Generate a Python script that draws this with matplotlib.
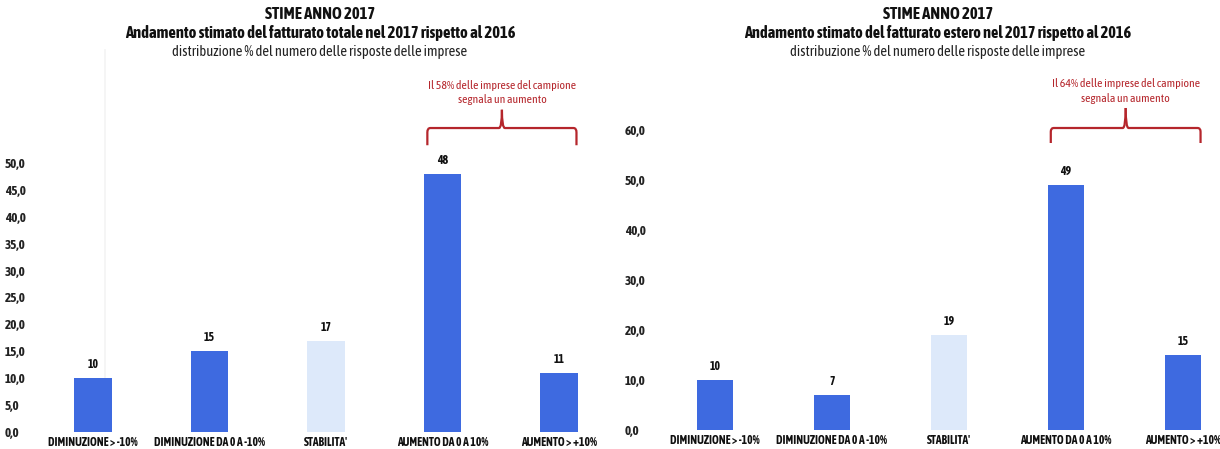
import matplotlib
matplotlib.use("Agg")
import matplotlib.pyplot as plt
from matplotlib import font_manager
from matplotlib.path import Path
from matplotlib.patches import PathPatch

# ---- data -------------------------------------------------------------
categories = ["DIMINUZIONE > -10%", "DIMINUZIONE DA 0 A -10%", "STABILITA'",
              "AUMENTO DA 0 A 10%", "AUMENTO > +10%"]
totale_values = [10, 15, 17, 48, 11]
estero_values = [10, 7, 19, 49, 15]

totale_ticks = [0, 5, 10, 15, 20, 25, 30, 35, 40, 45, 50]
estero_ticks = [0, 10, 20, 30, 40, 50, 60]

title_main = "STIME ANNO 2017"
title_totale = "Andamento stimato del fatturato totale nel 2017 rispetto al 2016"
title_estero = "Andamento stimato del fatturato estero nel 2017 rispetto al 2016"
subtitle = "distribuzione % del numero delle risposte delle imprese"
note_totale = "Il 58% delle imprese del campione\nsegnala un aumento"
note_estero = "Il 64% delle imprese del campione\nsegnala un aumento"

# ---- fonts: prefer a narrow family that also ships a bold face --------
entries = font_manager.fontManager.ttflist
bold_fams = {f.name for f in entries
             if (isinstance(f.weight, int) and f.weight >= 600)
             or str(f.weight) in ("bold", "semibold", "demibold", "heavy", "black")}
narrow = sorted(n for n in bold_fams if "Narrow" in n or "Condensed" in n)
if "Liberation Sans Narrow" in bold_fams:
    FONT = "Liberation Sans Narrow"
elif narrow:
    FONT = narrow[0]
elif "Lato" in bold_fams:
    FONT = "Lato"
else:
    FONT = "DejaVu Sans"
plt.rcParams["font.family"] = [FONT, "DejaVu Sans"]

BLUE = "#3e6ae0"
LIGHT = "#dde9fa"
RED = "#b5262c"

W, H = 1220, 449
fig = plt.figure(figsize=(W / 100, H / 100), dpi=100)
fig.patch.set_facecolor("white")
renderer = fig.canvas.get_renderer()


def fit_width(texts, target_px, max_size=None):
    """Scale font size so the widest text spans target_px (capped)."""
    widths = [t.get_window_extent(renderer).width for t in texts]
    k = target_px / max(widths)
    for t in texts:
        s = t.get_fontsize() * k
        if max_size is not None:
            s = min(s, max_size)
        t.set_fontsize(s)


def px_axes(x0, x1, y_top, y_bottom):
    return fig.add_axes([x0 / W, 1 - y_bottom / H, (x1 - x0) / W, (y_bottom - y_top) / H])


def brace(ax, x0, x1, y_tip, y_bar, y_stem):
    """Curly bracket spanning x0..x1 with a stem pointing up."""
    xm = (x0 + x1) / 2
    r = (y_bar - y_tip) * 0.25
    dx = (x1 - x0) * 0.02
    verts = [(x0, y_tip), (x0, y_bar - r), (x0, y_bar), (x0 + dx, y_bar),
             (xm - dx, y_bar), (xm, y_bar), (xm, y_stem)]
    codes = [Path.MOVETO, Path.LINETO, Path.CURVE3, Path.CURVE3,
             Path.LINETO, Path.CURVE3, Path.CURVE3]
    ax.add_patch(PathPatch(Path(verts, codes), fill=False, ec=RED, lw=1.6,
                           clip_on=False))
    verts2 = [(xm, y_stem), (xm, y_bar), (xm + dx, y_bar),
              (x1 - dx, y_bar), (x1, y_bar), (x1, y_bar - r), (x1, y_tip)]
    codes2 = [Path.MOVETO, Path.CURVE3, Path.CURVE3,
              Path.LINETO, Path.CURVE3, Path.CURVE3, Path.LINETO]
    ax.add_patch(PathPatch(Path(verts2, codes2), fill=False, ec=RED, lw=1.6,
                           clip_on=False))


def panel(ax, values, ticks, ylim, xlim, width, note, brace_y, note_y, note_w,
          ylabel_x):
    xs = range(len(values))
    colors = [LIGHT if c == "STABILITA'" else BLUE for c in categories]
    bars = ax.bar(xs, values, width=width, color=colors, edgecolor="none")
    for b, v in zip(bars, values):
        ax.annotate(f"{v}", (b.get_x() + b.get_width() / 2, v),
                    xytext=(0, 5), textcoords="offset points",
                    ha="center", va="bottom", fontsize=8.5, fontweight="bold",
                    color="#111111")
    ax.set_xlim(*xlim)
    ax.set_ylim(*ylim)
    ax.set_yticks(ticks)
    ylabels = ax.set_yticklabels([f"{t:.1f}".replace(".", ",") for t in ticks],
                                 fontsize=8, fontweight="bold", color="#222222",
                                 ha="left")
    ax.set_xticks(list(xs))
    xlabels = ax.set_xticklabels(categories, fontsize=8, fontweight="bold",
                                 color="#111111")
    ax.tick_params(length=0, pad=3)
    ax.tick_params(axis="y", pad=0)
    for lab in ax.get_yticklabels():
        lab.set_x(ylabel_x)
    for s in ax.spines.values():
        s.set_visible(False)
    ax.patch.set_alpha(0)

    x0, x1 = 3 - 0.13, 4 + 0.15
    brace(ax, x0, x1, *brace_y)
    t1 = ax.text((x0 + x1) / 2, note_y, note, ha="center", va="center",
                 fontsize=8, color=RED, linespacing=1.35)
    fit_width([t1], note_w, max_size=8.5)
    fit_width(xlabels, 110, max_size=9.5)
    fit_width(ylabels, 24, max_size=9.5)


# faint edge line in the left page area
fig.add_artist(plt.Line2D([105 / W, 105 / W], [1 - 425 / H, 1 - 50 / H],
                          color="#f3f3f3", lw=1.2, zorder=-1))

# left panel: fatturato totale
ax1 = px_axes(40, 600, 60, 432)
panel(ax1, totale_values, totale_ticks, (0, (432 - 60) / 5.38),
      (-(93 - 40) / 116.5, (600 - 93) / 116.5), 0.32, note_totale,
      (53.3, 56.5, 59.9), 63.1, 155, -35 / 560)

# right panel: fatturato estero
ax2 = px_axes(660, 1215, 60, 430)
panel(ax2, estero_values, estero_ticks, (0, (430 - 60) / 5.0),
      (-(715 - 660) / 117, (1215 - 715) / 117), 0.31, note_estero,
      (57.4, 60.4, 64.4), 67.8, 150, -35 / 555)

# titles
for cx, t2, w2 in ((320, title_totale, 394), (938, title_estero, 388)):
    a = fig.text(cx / W, 1 - 14 / H, title_main, ha="center", va="center",
                 fontsize=11, fontweight="bold", color="#111111")
    b = fig.text(cx / W, 1 - 33 / H, t2, ha="center", va="center",
                 fontsize=11, fontweight="bold", color="#111111")
    c = fig.text(cx / W, 1 - 52 / H, subtitle, ha="center", va="center",
                 fontsize=10, color="#222222")
    fit_width([a], 110, max_size=12)
    fit_width([b], w2, max_size=12)
    fit_width([c], 298, max_size=11)

fig.savefig("out.png", dpi=100, facecolor="white")
